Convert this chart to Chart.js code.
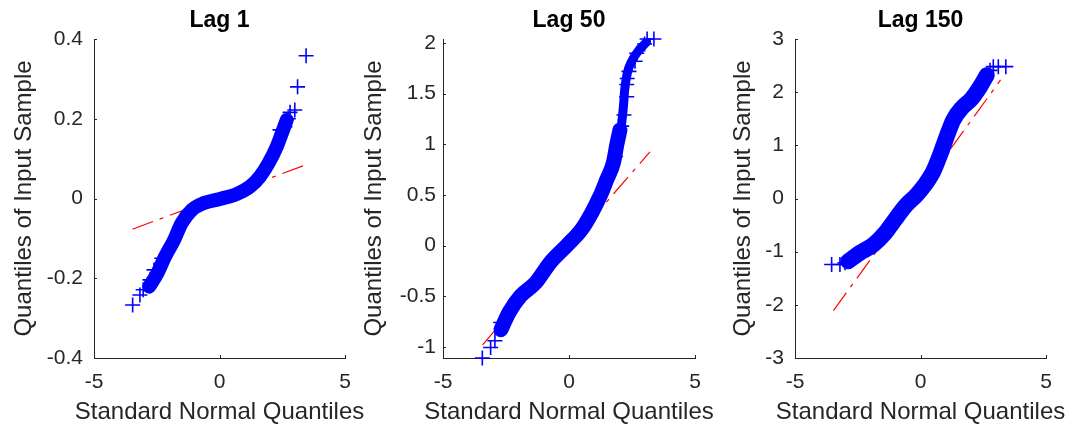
<!DOCTYPE html>
<html>
<head>
<meta charset="utf-8">
<script src="https://cdn.jsdelivr.net/npm/chart.js@4.4.1/dist/chart.umd.min.js"></script>
<style>
  html, body { margin: 0; padding: 0; background: #fff; }
  body { width: 1073px; height: 428px; position: relative; overflow: hidden; }
  canvas { position: absolute; top: 0; }
</style>
</head>
<body>
<canvas id="lag1" width="380" height="428" style="left:0px"></canvas>
<canvas id="lag50" width="380" height="428" style="left:350px"></canvas>
<canvas id="lag150" width="354" height="428" style="left:719px"></canvas>
<script>
// values
const xTicks = [-5, 0, 5];
const lag1YTicks = [-0.4, -0.2, 0, 0.2, 0.4];
const lag50YTicks = [-1, -0.5, 0, 0.5, 1, 1.5, 2];
const lag150YTicks = [-3, -2, -1, 0, 1, 2, 3];

// Lag 1
const lag1BandX = [-2.80, -2.48, -2.17, -1.81, -1.51, -1.11, -0.65, 0.02, 0.68, 1.22, 1.61, 1.95, 2.28, 2.48, 2.68];
const lag1BandY = [-0.221, -0.188, -0.146, -0.104, -0.062, -0.029, -0.012, -0.001, 0.011, 0.030, 0.055, 0.088, 0.130, 0.163, 0.197];
const lag1TailX = [-3.46, -3.17, -3.04, -2.77, -2.61, -2.30, 2.41, 2.61, 2.74, 2.81, 3.00, 3.11, 3.45];
const lag1TailY = [-0.267, -0.242, -0.229, -0.204, -0.179, -0.150, 0.172, 0.180, 0.200, 0.216, 0.222, 0.280, 0.358];
const lag1RefX = [-3.47, 3.34];
const lag1RefY = [-0.077, 0.082];

// Lag 50
const lag50BandX = [-2.70, -2.38, -1.92, -1.32, -0.75, -0.09, 0.50, 0.90, 1.23, 1.50, 1.76, 1.90, 2.02];
const lag50BandY = [-0.83, -0.661, -0.497, -0.366, -0.169, 0.0, 0.16, 0.324, 0.488, 0.652, 0.817, 1.00, 1.14];
const lag50UpperX = [1.98, 2.09, 2.16, 2.21, 2.31, 2.51, 2.78, 3.08];
const lag50UpperY = [1.05, 1.21, 1.374, 1.539, 1.70, 1.83, 1.93, 2.01];
const lag50TailX = [-3.44, -3.11, -2.94, -2.71, 1.85, 2.09, 2.18, 2.29, 2.29, 2.31, 2.38, 2.62, 2.69, 3.00, 3.10, 3.37];
const lag50TailY = [-1.11, -1.006, -0.94, -0.76, 0.88, 1.18, 1.29, 1.47, 1.59, 1.65, 1.72, 1.82, 1.90, 1.99, 2.04, 2.04];
const lag50RefX = [-3.43, 3.21];
const lag50RefY = [-0.98, 0.925];

// Lag 150
const lag150BandX = [-2.88, -2.41, -1.88, -1.41, -1.02, -0.62, -0.15, 0.18, 0.51, 0.78, 1.04, 1.31, 1.64, 2.04, 2.37, 2.64];
const lag150BandY = [-1.18, -1.02, -0.87, -0.65, -0.40, -0.15, 0.07, 0.26, 0.51, 0.82, 1.16, 1.48, 1.70, 1.88, 2.10, 2.32];
const lag150TailX = [-3.54, -3.21, -3.01, 2.77, 2.90, 3.10, 3.40];
const lag150TailY = [-1.24, -1.24, -1.21, 2.41, 2.48, 2.48, 2.48];
const lag150RefX = [-3.47, 3.19];
const lag150RefY = [-2.11, 2.23];

const FONT = '"Liberation Sans", Arial, Helvetica, sans-serif';
const AXIS = '#262626';
const BLUE = '#0000ff';
const RED = '#ff0000';

function points(xs, ys) {
  return xs.map((x, i) => ({ x, y: ys[i] }));
}

// matlab style ticks, pointing into the plot
const inwardTicks = {
  id: 'inwardTicks',
  afterDraw(chart) {
    const { ctx, chartArea: area, scales } = chart;
    const len = 3;
    ctx.save();
    ctx.strokeStyle = AXIS;
    ctx.lineWidth = 1;
    ctx.beginPath();
    scales.x.ticks.forEach((t) => {
      const px = Math.round(scales.x.getPixelForValue(t.value)) + 0.5;
      ctx.moveTo(px, area.bottom);
      ctx.lineTo(px, area.bottom - len);
    });
    scales.y.ticks.forEach((t) => {
      const py = Math.round(scales.y.getPixelForValue(t.value)) + 0.5;
      ctx.moveTo(area.left, py);
      ctx.lineTo(area.left + len, py);
    });
    ctx.stroke();
    ctx.restore();
  }
};

// x axis title, allowed to run wider than the plot box (the scale title gets squeezed)
const xAxisLabel = {
  id: 'xAxisLabel',
  afterDraw(chart, args, opts) {
    const { ctx, chartArea: area } = chart;
    ctx.save();
    ctx.fillStyle = AXIS;
    ctx.font = `24px ${FONT}`;
    ctx.textAlign = 'center';
    ctx.textBaseline = 'middle';
    ctx.fillText(opts.text, (area.left + area.right) / 2, 412);
    ctx.restore();
  }
};

function drawPanel(canvasId, cfg) {
  const bandSets = cfg.bands.map((b, i) => ({
    data: points(b.x, b.y),
    showLine: true,
    borderColor: BLUE,
    borderWidth: b.width,
    pointRadius: 0,
    cubicInterpolationMode: 'monotone',
    borderCapStyle: 'round',
    borderJoinStyle: 'round',
    order: 1
  }));

  new Chart(document.getElementById(canvasId), {
    type: 'scatter',
    data: {
      datasets: [
        {
          data: points(cfg.tailX, cfg.tailY),
          pointStyle: 'cross',
          pointRadius: 7.5,
          pointBorderWidth: 1.6,
          borderColor: BLUE,
          backgroundColor: BLUE,
          clip: false,
          order: 0
        },
        ...bandSets,
        {
          data: points(cfg.refX, cfg.refY),
          showLine: true,
          borderColor: RED,
          borderWidth: 1.2,
          borderDash: [22, 7, 4, 7],
          pointRadius: 0,
          order: 2
        }
      ]
    },
    options: {
      responsive: false,
      animation: false,
      events: [],
      layout: { padding: { left: 0, right: cfg.padRight, top: 0, bottom: 0 } },
      plugins: {
        legend: { display: false },
        tooltip: { enabled: false },
        xAxisLabel: { text: 'Standard Normal Quantiles' },
        title: {
          display: true,
          text: cfg.title,
          fullSize: false,
          color: '#000',
          font: { family: FONT, size: 23, weight: 'bold' },
          padding: { top: 7, bottom: 4.4 }
        }
      },
      scales: {
        x: {
          type: 'linear',
          min: -5,
          max: 5,
          afterBuildTicks: (s) => { s.ticks = xTicks.map((v) => ({ value: v })); },
          afterFit: (s) => { s.height = 70; s.paddingLeft = 0; s.paddingRight = 0; },
          grid: { display: false, drawTicks: false },
          border: { display: true, color: AXIS, width: 1 },
          ticks: {
            color: AXIS,
            font: { family: FONT, size: 21 },
            padding: 12,
            maxRotation: 0,
            callback: (v) => String(v)
          }
        },
        y: {
          type: 'linear',
          min: cfg.yMin,
          max: cfg.yMax,
          afterBuildTicks: (s) => { s.ticks = cfg.yTicks.map((v) => ({ value: v })); },
          afterFit: (s) => { s.width = cfg.axisLeft; s.paddingTop = 0; s.paddingBottom = 0; },
          grid: { display: false, drawTicks: false },
          border: { display: true, color: AXIS, width: 1 },
          ticks: {
            color: AXIS,
            font: { family: FONT, size: 21 },
            padding: cfg.tickGap,
            callback: (v) => String(v)
          },
          title: {
            display: true,
            text: 'Quantiles of Input Sample',
            color: AXIS,
            font: { family: FONT, size: 24 },
            padding: { top: 10, bottom: 0 }
          }
        }
      }
    },
    plugins: [inwardTicks, xAxisLabel]
  });
}

drawPanel('lag1', {
  title: 'Lag 1',
  bands: [{ x: lag1BandX, y: lag1BandY, width: 14 }],
  tailX: lag1TailX, tailY: lag1TailY,
  refX: lag1RefX, refY: lag1RefY,
  yMin: -0.4, yMax: 0.4, yTicks: lag1YTicks,
  axisLeft: 94, padRight: 35, tickGap: 11
});

drawPanel('lag50', {
  title: 'Lag 50',
  bands: [
    { x: lag50BandX, y: lag50BandY, width: 15 },
    { x: lag50UpperX, y: lag50UpperY, width: 9 }
  ],
  tailX: lag50TailX, tailY: lag50TailY,
  refX: lag50RefX, refY: lag50RefY,
  yMin: -1.11, yMax: 2.04, yTicks: lag50YTicks,
  axisLeft: 93, padRight: 35, tickGap: 7
});

drawPanel('lag150', {
  title: 'Lag 150',
  bands: [{ x: lag150BandX, y: lag150BandY, width: 16 }],
  tailX: lag150TailX, tailY: lag150TailY,
  refX: lag150RefX, refY: lag150RefY,
  yMin: -3, yMax: 3, yTicks: lag150YTicks,
  axisLeft: 76, padRight: 27, tickGap: 11
});
</script>
</body>
</html>
